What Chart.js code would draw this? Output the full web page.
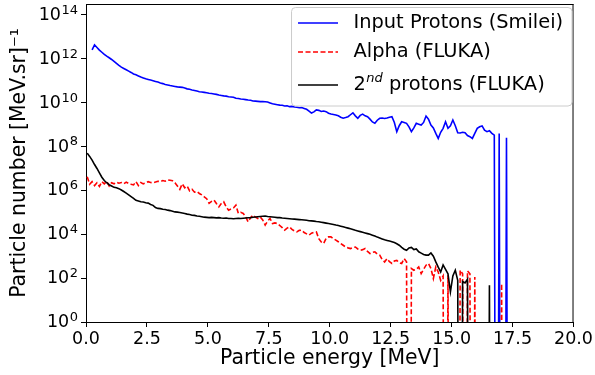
<!DOCTYPE html>
<html><head><meta charset="utf-8">
<script src="https://cdn.jsdelivr.net/npm/chart.js@4.4.0/dist/chart.umd.min.js"></script>
<style>html,body{margin:0;padding:0;background:#fff}#wrap{width:595px;height:375px;position:relative}</style>
</head><body><div id="wrap"><canvas id="c" width="595" height="375"></canvas></div>
<script>
// Bin centres (MeV)
const energyMeV = [
 0.05,0.15,0.25,0.35,0.45,0.55,0.65,0.75,0.85,0.95,
 1.05,1.15,1.25,1.35,1.45,1.55,1.65,1.75,1.85,1.95,
 2.05,2.15,2.25,2.35,2.45,2.55,2.65,2.75,2.85,2.95,
 3.05,3.15,3.25,3.35,3.45,3.55,3.65,3.75,3.85,3.95,
 4.05,4.15,4.25,4.35,4.45,4.55,4.65,4.75,4.85,4.95,
 5.05,5.15,5.25,5.35,5.45,5.55,5.65,5.75,5.85,5.95,
 6.05,6.15,6.25,6.35,6.45,6.55,6.65,6.75,6.85,6.95,
 7.05,7.15,7.25,7.35,7.45,7.55,7.65,7.75,7.85,7.95,
 8.05,8.15,8.25,8.35,8.45,8.55,8.65,8.75,8.85,8.95,
 9.05,9.15,9.25,9.35,9.45,9.55,9.65,9.75,9.85,9.95,
 10.05,10.15,10.25,10.35,10.45,10.55,10.65,10.75,10.85,10.95,
 11.05,11.15,11.25,11.35,11.45,11.55,11.65,11.75,11.85,11.95,
 12.05,12.15,12.25,12.35,12.45,12.55,12.65,12.75,12.85,12.95,
 13.05,13.15,13.25,13.35,13.45,13.55,13.65,13.75,13.85,13.95,
 14.05,14.15,14.25,14.35,14.45,14.55,14.65,14.75,14.85,14.95,
 15.05,15.15,15.25,15.35,15.45,15.55,15.65,15.75,15.85,15.95,
 16.05,16.15,16.25,16.35,16.45,16.55,16.65,16.75,16.85,16.95,
 17.05,17.15,17.25,17.35
];
const Z = -Infinity; // zero counts in a bin (log10 of 0)

// log10 of particle number [MeV.sr]^-1
const inputProtonsLog10 = [
 null,null,12.41,12.64,12.52,12.40,12.30,12.20,12.12,12.05,
 11.97,11.88,11.79,11.70,11.62,11.56,11.50,11.44,11.38,11.31,
 11.27,11.22,11.17,11.13,11.09,11.06,11.03,11.00,10.97,10.94,
 10.90,10.87,10.83,10.81,10.78,10.76,10.74,10.72,10.71,10.70,
 10.67,10.63,10.61,10.58,10.56,10.53,10.50,10.49,10.47,10.45,
 10.43,10.42,10.40,10.38,10.35,10.33,10.31,10.30,10.27,10.26,
 10.25,10.20,10.19,10.17,10.16,10.14,10.12,10.11,10.08,10.07,
 10.06,10.05,10.05,10.04,10.03,9.99,9.95,9.93,9.91,9.89,
 9.88,9.85,9.86,9.82,9.83,9.80,9.79,9.77,9.78,9.74,
 9.70,9.62,9.53,9.58,9.67,9.65,9.60,9.62,9.59,9.52,
 9.48,9.46,9.44,9.40,9.34,9.29,9.32,9.36,9.45,9.54,
 9.40,9.29,9.42,9.48,9.40,9.36,9.25,9.12,9.06,9.20,
 9.29,9.30,9.28,9.30,9.34,9.36,9.10,8.68,8.95,9.13,
 9.10,9.06,8.90,8.68,8.85,9.06,9.02,8.98,9.10,9.39,
 9.25,8.98,8.85,8.60,8.37,8.65,8.83,9.13,8.83,8.95,
 9.21,8.95,8.63,8.62,8.65,8.63,8.50,8.45,8.37,8.60,
 8.83,8.90,8.94,8.75,8.68,8.72,8.60,8.52,Z,8.60,
 Z,Z,8.40,Z
];
const alphaLog10 = [
 6.62,6.28,6.40,6.22,6.35,6.18,6.40,6.30,6.42,6.20,
 6.35,6.30,6.38,6.33,6.36,6.30,6.38,6.32,6.28,6.25,
 6.40,6.22,6.36,6.30,6.34,6.40,6.36,6.35,6.38,6.42,
 6.40,6.45,6.42,6.48,6.46,6.44,6.35,6.20,6.05,6.30,
 6.12,6.20,5.98,6.05,5.92,5.95,5.86,5.80,5.71,5.62,
 5.41,5.50,5.56,5.40,5.25,5.40,5.48,5.25,5.10,5.15,
 5.20,5.33,4.95,5.00,4.95,4.80,4.57,4.75,4.87,4.78,
 4.72,4.79,4.65,4.42,4.60,4.72,4.49,4.52,4.49,4.40,
 4.30,4.19,4.28,4.34,4.22,4.15,4.11,4.18,4.19,4.08,
 4.02,3.96,4.05,4.09,4.11,3.80,3.65,3.58,3.81,3.88,
 3.88,3.80,3.73,3.66,3.58,3.50,3.42,3.38,3.35,3.40,
 3.42,3.33,3.27,3.30,3.35,3.22,3.12,3.18,3.20,3.10,
 3.05,2.85,2.74,2.89,2.75,2.67,2.78,2.81,2.70,2.67,
 2.89,2.75,Z,2.44,2.36,2.40,2.51,2.21,2.40,2.59,
 2.67,2.44,1.98,2.51,2.28,1.90,2.10,Z,2.15,Z,
 Z,Z,Z,2.36,2.20,Z,2.33,2.20,Z,2.05,
 Z,Z,Z,Z,Z,Z,Z,Z,Z,Z,
 1.75,Z,null,null
];
const secondProtonsLog10 = [
 7.70,7.55,7.38,7.18,7.00,6.80,6.60,6.45,6.35,6.26,
 6.20,6.14,6.12,6.08,6.02,5.95,5.88,5.80,5.72,5.64,
 5.55,5.52,5.48,5.47,5.44,5.42,5.36,5.32,5.22,5.18,
 5.17,5.14,5.13,5.10,5.08,5.05,5.02,5.01,4.99,4.97,
 4.95,4.92,4.90,4.87,4.86,4.83,4.82,4.80,4.78,4.77,
 4.76,4.77,4.76,4.75,4.76,4.74,4.73,4.74,4.72,4.72,
 4.71,4.72,4.73,4.72,4.73,4.74,4.75,4.76,4.78,4.79,
 4.80,4.81,4.82,4.83,4.81,4.80,4.79,4.78,4.76,4.76,
 4.74,4.73,4.72,4.71,4.70,4.69,4.68,4.67,4.66,4.65,
 4.64,4.62,4.61,4.60,4.58,4.57,4.55,4.53,4.51,4.49,
 4.47,4.45,4.42,4.40,4.37,4.34,4.31,4.28,4.25,4.22,
 4.18,4.15,4.12,4.09,4.06,4.03,4.00,3.96,3.92,3.87,
 3.83,3.79,3.75,3.72,3.69,3.66,3.62,3.57,3.50,3.40,
 3.32,3.27,3.38,3.40,3.30,3.33,3.20,3.14,3.08,3.05,
 3.05,3.15,3.00,2.74,2.50,2.28,2.60,2.40,2.20,1.37,
 2.10,2.36,1.90,Z,1.85,1.78,1.95,Z,Z,Z,
 Z,Z,Z,Z,Z,1.68,Z,null,null,null,
 null,null,null,null
];

const seriesLabels = ['Input Protons (Smilei)', 'Alpha (FLUKA)', '2nd protons (FLUKA)'];
const xTickValues = [0, 2.5, 5, 7.5, 10, 12.5, 15, 17.5, 20];
const yTickExponents = [0, 2, 4, 6, 8, 10, 12, 14];
const yMaxExponent = 14.5;

// like matplotlib's clipping of non-positive values on a log axis
const CLIP_FLOOR = 1e-30;
function toPoints(logs) {
  return energyMeV.map((e, i) => {
    const v = logs[i];
    if (v === null || v === undefined) return { x: e, y: null };
    return { x: e, y: v === Z ? CLIP_FLOOR : Math.pow(10, v) };
  });
}

const FONT = "'DejaVu Sans', sans-serif";
Chart.defaults.font.family = FONT;
Chart.defaults.font.size = 17;
Chart.defaults.color = '#000';

const decorPlugin = {
  id: 'mplDecor',
  afterDatasetsDraw(chart) {
    const ctx = chart.ctx, ca = chart.chartArea;
    ctx.save();
    // top & right spines
    ctx.strokeStyle = '#000'; ctx.lineWidth = 1;
    ctx.beginPath();
    ctx.moveTo(ca.left, ca.top + 0.5); ctx.lineTo(ca.right, ca.top + 0.5);
    ctx.moveTo(ca.right - 0.5, ca.top); ctx.lineTo(ca.right - 0.5, ca.bottom);
    ctx.stroke();

    // y tick labels 10^n with a real superscript
    const ys = chart.scales.y;
    ctx.fillStyle = '#000'; ctx.textAlign = 'left'; ctx.textBaseline = 'middle';
    yTickExponents.forEach(e => {
      const py = ys.getPixelForValue(Math.pow(10, e));
      ctx.font = '13px ' + FONT;
      const ew = ctx.measureText(String(e)).width;
      ctx.font = '17.5px ' + FONT;
      const bw = ctx.measureText('10').width;
      const right = ca.left - 8;
      ctx.fillText('10', right - ew - bw - 0.5, py + 0.5);
      ctx.font = '13px ' + FONT;
      ctx.fillText(String(e), right - ew, py - 4.5);
    });

    // legend box
    const bx = ca.right - 282, by = ca.top + 3.5, bw = 280.5, bh = 98.5, r = 4;
    ctx.beginPath();
    ctx.moveTo(bx + r, by); ctx.lineTo(bx + bw - r, by); ctx.quadraticCurveTo(bx + bw, by, bx + bw, by + r);
    ctx.lineTo(bx + bw, by + bh - r); ctx.quadraticCurveTo(bx + bw, by + bh, bx + bw - r, by + bh);
    ctx.lineTo(bx + r, by + bh); ctx.quadraticCurveTo(bx, by + bh, bx, by + bh - r);
    ctx.lineTo(bx, by + r); ctx.quadraticCurveTo(bx, by, bx + r, by);
    ctx.closePath();
    ctx.fillStyle = 'rgba(255,255,255,0.8)'; ctx.fill();
    ctx.strokeStyle = '#cccccc'; ctx.lineWidth = 1; ctx.stroke();
    const rowsY = [ca.top + 19, ca.top + 48, ca.top + 81];
    const lx0 = bx + 6.5, lx1 = bx + 46.5, tx = bx + 62;
    chart.data.datasets.forEach((ds, i) => {
      const y = rowsY[i];
      ctx.beginPath();
      ctx.setLineDash(ds.borderDash || []);
      ctx.strokeStyle = ds.borderColor; ctx.lineWidth = ds.borderWidth;
      ctx.moveTo(lx0, y); ctx.lineTo(lx1, y); ctx.stroke();
      ctx.setLineDash([]);
      ctx.fillStyle = '#000'; ctx.textBaseline = 'middle'; ctx.textAlign = 'left';
      ctx.font = '19.4px ' + FONT;
      if (i === 2) {
        ctx.fillText('2', tx, y);
        let x = tx + ctx.measureText('2').width;
        ctx.font = 'italic 13px ' + FONT;
        ctx.fillText('nd', x + 0.5, y - 6.5);
        x += ctx.measureText('nd').width + 0.5;
        ctx.font = '19.4px ' + FONT;
        ctx.fillText(' protons (FLUKA)', x, y);
      } else {
        ctx.fillText(ds.label, tx, y);
      }
    });
    ctx.restore();
  }
};

new Chart(document.getElementById('c'), {
  type: 'line',
  data: {
    datasets: [
      { label: seriesLabels[0], data: toPoints(inputProtonsLog10), borderColor: '#0000ff', borderWidth: 1.6, order: 2 },
      { label: seriesLabels[1], data: toPoints(alphaLog10), borderColor: '#ff0000', borderWidth: 1.6, borderDash: [5, 2.5], order: 1 },
      { label: seriesLabels[2], data: toPoints(secondProtonsLog10), borderColor: '#000000', borderWidth: 1.6, order: 0 }
    ]
  },
  options: {
    responsive: false,
    animation: false,
    events: [],
    layout: { padding: { top: 4, right: 20, left: 0, bottom: 0 } },
    elements: { point: { radius: 0 }, line: { tension: 0, fill: false } },
    plugins: { legend: { display: false }, tooltip: { enabled: false } },
    scales: {
      x: {
        type: 'linear', min: 0, max: 20,
        afterBuildTicks: s => { s.ticks = xTickValues.map(v => ({ value: v })); },
        afterFit: s => { s.height = 53; },
        ticks: { autoSkip: false, maxRotation: 0, padding: 2, callback: v => Number(v).toFixed(1), color: '#000', font: { size: 17.5 } },
        grid: { display: true, drawOnChartArea: false, drawTicks: true, tickLength: 5, color: '#000' },
        border: { display: true, color: '#000', width: 1 },
        title: { display: true, text: 'Particle energy [MeV]', padding: { top: 0, bottom: 4 }, color: '#000', font: { size: 20.4 } }
      },
      y: {
        type: 'logarithmic', min: 1, max: Math.pow(10, yMaxExponent),
        afterBuildTicks: s => { s.ticks = yTickExponents.map(e => ({ value: Math.pow(10, e) })); },
        afterFit: s => { s.width = 86; },
        ticks: { display: false, autoSkip: false },
        grid: { display: true, drawOnChartArea: false, drawTicks: true, tickLength: 5, color: '#000' },
        border: { display: true, color: '#000', width: 1 },
        title: { display: true, text: 'Particle number [MeV.sr]⁻¹', padding: { top: 7, bottom: 0 }, color: '#000', font: { size: 20.4 } }
      }
    }
  },
  plugins: [decorPlugin]
});
</script>
</body></html>
